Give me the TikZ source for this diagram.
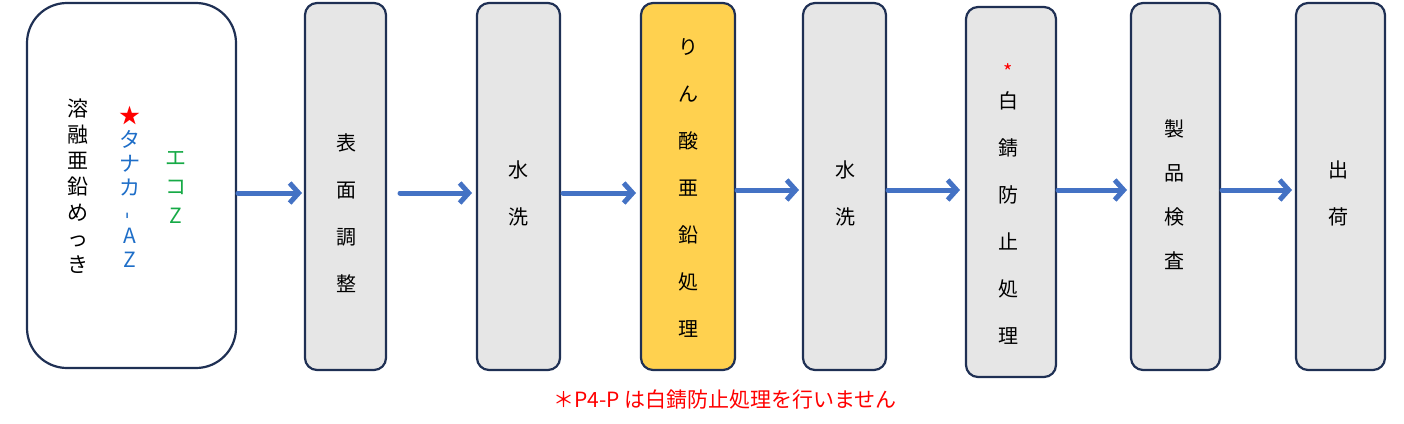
\documentclass[tikz,border=0pt]{standalone}
\usepackage{fontspec}
\newfontfamily\cjk{Noto Sans CJK JP}
\usetikzlibrary{positioning,arrows.meta}
\definecolor{navy}{RGB}{31,48,84}
\definecolor{stepgray}{RGB}{230,230,230}
\definecolor{stepyellow}{RGB}{255,209,79}
\definecolor{flowblue}{RGB}{68,114,196}
\definecolor{ecogreen}{RGB}{22,170,70}
\definecolor{azblue}{RGB}{30,110,200}
\tikzset{
  procbox/.style={draw=navy,line width=2.2pt,fill=stepgray,rounded corners=12pt},
  vtext/.style={font=\cjk\fontsize{20}{47}\selectfont,align=center,inner sep=0pt},
  flow/.style={draw=flowblue,line width=5pt,line cap=round,-{Straight Barb[length=9pt,width=20pt,line width=5pt]}}
}
\begin{document}
\begin{tikzpicture}[x=1pt,y=-1pt]
\useasboundingbox (0,0) rectangle (1404,423);

% boxes
\draw[procbox,fill=white,rounded corners=40pt] (27,3) rectangle (236,368);
\draw[procbox] (305,3) rectangle (386,370);
\draw[procbox] (477,3) rectangle (560,370);
\draw[procbox,fill=stepyellow] (641,3) rectangle (735,370);
\draw[procbox] (803,3) rectangle (886,370);
\draw[procbox] (966,7) rectangle (1056,377);
\draw[procbox] (1131,3) rectangle (1220,370);
\draw[procbox] (1296,3) rectangle (1385,370);

% texts
\node[vtext,font=\cjk\fontsize{21}{26}\selectfont] (hdg) at (78,186) {溶\\融\\亜\\鉛\\め\\っ\\き};
\node[vtext,font=\cjk\fontsize{21}{24}\selectfont,text=azblue] (taz) at (130,187) {\textcolor{red}{★}\\タ\\ナ\\カ\\\rotatebox{90}{-}\\A\\Z};
\node[vtext,font=\cjk\fontsize{21}{29}\selectfont,text=ecogreen] (eco) at (176,187) {エ\\コ\\Z};
\node[vtext] (s1) at (346,213) {表\\面\\調\\整};
\node[vtext] (s2) at (518,193) {水\\洗};
\node[vtext] (s3) at (688,188) {り\\ん\\酸\\亜\\鉛\\処\\理};
\node[vtext] (s4) at (845,193) {水\\洗};
\node[vtext,text=red,font=\cjk\fontsize{20}{20}\selectfont] (ast) at (1008,72) {*};
\node[vtext] (s5) at (1008,218) {白\\錆\\防\\止\\処\\理};
\node[vtext,font=\cjk\fontsize{20}{44}\selectfont] (s6) at (1174,195) {製\\品\\検\\査};
\node[vtext] (s7) at (1338,193) {出\\荷};
\node[font=\cjk\fontsize{21}{24}\selectfont,text=red] (note) at (725,400) {＊P4-P は白錆防止処理を行いません};

% arrows
\coordinate (a0) at (238,193); \coordinate (b0) at (302,193);
\coordinate (a1) at (400,193); \coordinate (b1) at (472,193);
\coordinate (a2) at (563,193); \coordinate (b2) at (636,193);
\coordinate (a3) at (737,190); \coordinate (b3) at (799,190);
\coordinate (a4) at (888,190); \coordinate (b4) at (960,190);
\coordinate (a5) at (1058,190); \coordinate (b5) at (1127,190);
\coordinate (a6) at (1222,190); \coordinate (b6) at (1292,190);
\foreach \i in {0,...,6}
  \draw[flow] (a\i) -- (b\i);
\end{tikzpicture}
\end{document}
